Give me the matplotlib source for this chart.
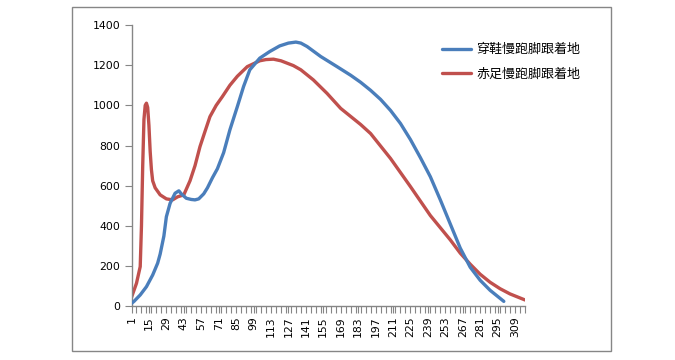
import matplotlib
matplotlib.use("Agg")
import matplotlib.pyplot as plt
from matplotlib.patches import Rectangle

plt.rcParams['font.family'] = ['Noto Sans CJK SC', 'DejaVu Sans']

series_names = ["穿鞋慢跑脚跟着地", "赤足慢跑脚跟着地"]

shoe_x = [1, 3, 8, 13, 18, 22, 24, 27, 29, 32, 36, 39, 41, 45, 49, 52, 55, 59,
          62, 66, 70, 75, 80, 86, 91, 96, 104, 112, 120, 127, 133, 137, 142,
          153, 166, 177, 185, 193, 201, 209, 217, 225, 233, 241, 249, 257, 265,
          273, 281, 289, 295, 300]
shoe_y = [15, 25, 57, 98, 156, 215, 260, 350, 446, 513, 563, 575, 560, 538,
          532, 530, 535, 560, 590, 640, 685, 765, 878, 994, 1094, 1177, 1235,
          1268, 1296, 1310, 1315, 1310, 1293, 1243, 1193, 1150, 1115, 1075,
          1030, 975, 910, 830, 740, 645, 530, 410, 290, 195, 130, 80, 50, 25]

bare_x = [1, 3, 5, 8, 9, 10, 11, 12, 13, 14, 15, 16, 17, 18, 20, 24, 29, 34,
          38, 43, 48, 52, 56, 60, 64, 69, 74, 80, 86, 94, 104, 109, 115, 121,
          126, 131, 137, 147, 158, 169, 177, 185, 193, 209, 225, 241, 257, 265,
          273, 281, 289, 297, 305, 313, 317]
bare_y = [45, 80, 115, 198, 400, 700, 930, 1000, 1011, 990, 900, 770, 680,
          625, 590, 555, 535, 530, 545, 555, 625, 700, 795, 870, 944, 1000, 1044,
          1100, 1145, 1193, 1222, 1228, 1230, 1222, 1210, 1198, 1177, 1127,
          1060, 985, 945, 905, 860, 736, 596, 452, 331, 265, 210, 160, 120, 88,
          62, 42, 32]

x_first, x_last = 1, 317
x_label_step = 14
y_ticks = [0, 200, 400, 600, 800, 1000, 1200, 1400]

W, H = 675, 360
fig = plt.figure(figsize=(W / 100, H / 100), dpi=100)
fig.patch.set_facecolor("white")

fig.add_artist(Rectangle((72 / W, 1 - 351 / H), (611 - 72) / W, (351 - 7) / H,
                         transform=fig.transFigure, fill=False,
                         edgecolor="#868686", linewidth=1.0))

left, right, top, bottom = 131.5, 525, 25, 306.4
ax = fig.add_axes([left / W, 1 - bottom / H, (right - left) / W, (bottom - top) / H])

blue = "#4A7EBB"
red = "#C0504D"
ax.plot(shoe_x, shoe_y, color=blue, linewidth=2.4, solid_capstyle="round",
        solid_joinstyle="round", label=series_names[0], zorder=3)
ax.plot(bare_x, bare_y, color=red, linewidth=2.4, solid_capstyle="round",
        solid_joinstyle="round", label=series_names[1], zorder=2)

ax.set_xlim(x_first, x_last)
ax.set_ylim(0, 1400)

for s in ["top", "right"]:
    ax.spines[s].set_visible(False)
for s in ["left", "bottom"]:
    ax.spines[s].set_color("#868686")
    ax.spines[s].set_linewidth(1.0)

xt = list(range(x_first, x_last, x_label_step))
ax.set_xticks(xt)
ax.set_xticklabels([str(v) for v in xt], rotation=90, fontsize=7.8,
                   family=["DejaVu Sans"])
ax.set_xticks(list(range(x_first, x_last + 1, 4)), minor=True)
ax.tick_params(axis="x", which="both", direction="out", length=5,
               color="#868686", width=0.8, pad=2)
ax.set_yticks(y_ticks)
ax.set_yticklabels([str(v) for v in y_ticks], fontsize=7.8, family=["DejaVu Sans"])
ax.tick_params(axis="y", direction="out", length=5, color="#868686", width=0.8, pad=3)

ax.legend(loc="upper left",
          bbox_to_anchor=((437 - left) / (right - left), 1 - (38 - top) / (bottom - top)),
          frameon=False, fontsize=9.4, handlelength=2.2, handletextpad=0.45,
          labelspacing=0.9, borderaxespad=0)

fig.savefig("out.png", dpi=100, facecolor="white")
